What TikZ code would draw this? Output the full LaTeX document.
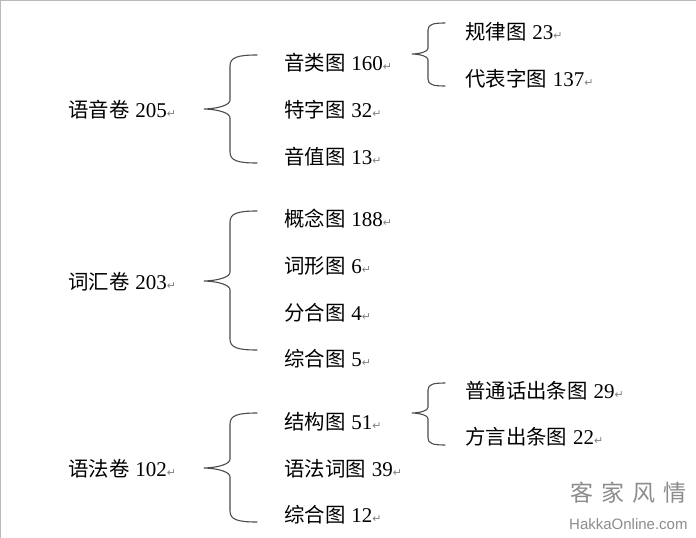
\documentclass[tikz,border=0pt]{standalone}
\usepackage{fontspec}
\setmainfont{Liberation Serif}
\newfontfamily\cjkf{Noto Sans CJK SC}
\newfontfamily\symf{DejaVu Sans}
\newfontfamily\wmf{Liberation Sans}
\newcommand{\rmark}{\textcolor{retgray}{\symf\fontsize{11}{11}\selectfont ↵}}
\newcommand{\lab}[2]{{\cjkf\fontsize{20.4}{20.4}\selectfont #1}\hspace{6pt}#2\rmark}
\definecolor{retgray}{RGB}{130,130,130}
\definecolor{wmgray}{RGB}{140,140,140}
\definecolor{framegray}{RGB}{185,185,185}
\tikzset{
  item/.style={anchor=base west,inner sep=0pt,font=\fontsize{21}{21}\selectfont},
  bracel/.style={draw=black!70,line width=1.1pt,line cap=round},
  wm/.style={anchor=base west,inner sep=0pt,text=wmgray}
}
% #1 tip x, #2 spine x, #3 end x, #4 top y, #5 mid y, #6 bottom y, #7 curve radius x, #8 radius y
\newcommand{\cbrace}[8]{%
  \draw[bracel] (#3,#4) .. controls (#2+0.3*#7,#4) and (#2,#4+0.2*#8) .. (#2,#4+#8)
    -- (#2,#5-0.8*#8) .. controls (#2,#5-0.35*#8) and (#2-0.45*#7,#5-0.03*#8) .. (#1,#5)
    .. controls (#2-0.45*#7,#5+0.03*#8) and (#2,#5+0.35*#8) .. (#2,#5+0.8*#8)
    -- (#2,#6-#8) .. controls (#2,#6-0.2*#8) and (#2+0.3*#7,#6) .. (#3,#6);}
\begin{document}
\begin{tikzpicture}[x=1pt,y=-1pt]
\useasboundingbox (0,0) rectangle (696,538);
\draw[framegray,line width=1pt] (0.5,538) -- (0.5,0.5) -- (696,0.5);
\node[item] (a) at (68,117) {\lab{语音卷}{205}};
\node[item] (a1) at (284,70) {\lab{音类图}{160}};
\node[item] (a2) at (284,117) {\lab{特字图}{32}};
\node[item] (a3) at (284,164) {\lab{音值图}{13}};
\node[item] (a11) at (465,39) {\lab{规律图}{23}};
\node[item] (a12) at (465,86) {\lab{代表字图}{137}};
\node[item] (b) at (68,289) {\lab{词汇卷}{203}};
\node[item] (b1) at (284,226) {\lab{概念图}{188}};
\node[item] (b2) at (284,273) {\lab{词形图}{6}};
\node[item] (b3) at (284,320) {\lab{分合图}{4}};
\node[item] (b4) at (284,366) {\lab{综合图}{5}};
\node[item] (c) at (68,476) {\lab{语法卷}{102}};
\node[item] (c1) at (284,429) {\lab{结构图}{51}};
\node[item] (c2) at (284,476) {\lab{语法词图}{39}};
\node[item] (c3) at (284,522) {\lab{综合图}{12}};
\node[item] (c11) at (465,398) {\lab{普通话出条图}{29}};
\node[item] (c12) at (465,444) {\lab{方言出条图}{22}};
\cbrace{204}{230}{257}{55}{109}{163}{27}{11}
\cbrace{204}{230}{257}{211}{281}{350}{27}{11}
\cbrace{204}{230}{257}{413}{468}{522}{27}{11}
\cbrace{412}{428}{445}{23}{54}{86}{17}{7}
\cbrace{412}{428}{445}{383}{413}{445}{17}{7}
\node[wm,font=\cjkf\fontsize{23}{23}\selectfont] (w1) at (570,501) {客\hspace{8pt}家\hspace{8pt}风\hspace{8pt}情};
\node[wm,font=\wmf\fontsize{15}{15}\selectfont] (w2) at (569,529) {HakkaOnline.com};
\end{tikzpicture}
\end{document}
